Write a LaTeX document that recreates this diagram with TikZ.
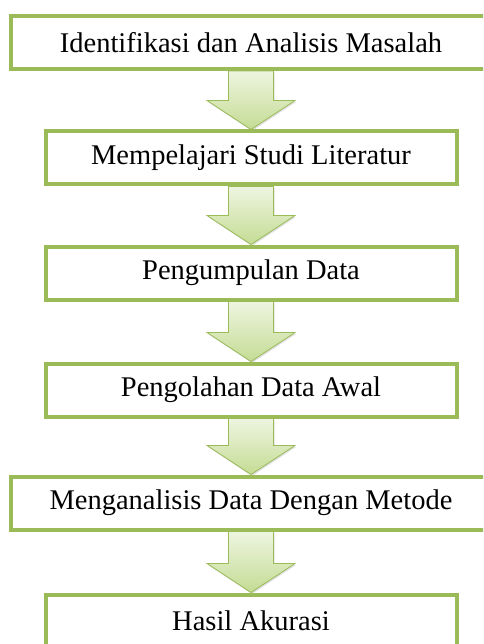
\documentclass[tikz,border=0pt]{standalone}
\usepackage{fontspec}
\setmainfont{Liberation Serif}
\usetikzlibrary{calc,backgrounds,shadows}
\definecolor{boxgreen}{HTML}{9BBB59}
\definecolor{arrlight}{HTML}{EEF5E0}
\definecolor{arrdark}{HTML}{C4DC94}
\begin{document}
\begin{tikzpicture}[x=1pt,y=-1pt,
  stepbox/.style={draw=boxgreen, line width=4pt, fill=white, minimum height=53pt, inner sep=0pt, font=\fontsize{28.5}{31}\selectfont},
  narrowbox/.style={stepbox, minimum width=411pt},
  widebox/.style={stepbox, minimum width=481pt},
  flowarrow/.style={draw=boxgreen, line width=0.8pt, top color=arrlight, bottom color=arrdark, drop shadow={opacity=0.25,shadow xshift=1pt,shadow yshift=-1.5pt}}]
\useasboundingbox (0,0) rectangle (483,644);
\clip (0,0) rectangle (483,644);
\node[widebox]   (s1) at (251,42.5) {Identifikasi dan Analisis Masalah};
\node[narrowbox] (s2) at (251,158)  {Mempelajari Studi Literatur};
\node[narrowbox] (s3) at (251,273)  {Pengumpulan Data};
\node[narrowbox] (s4) at (251,390)  {Pengolahan Data Awal};
\node[widebox]   (s5) at (251,503)  {Menganalisis Data Dengan Metode};
\node[narrowbox] (s6) at (251,621)  {Hasil Akurasi};
\begin{scope}[on background layer]
\foreach \a/\b in {s1/s2,s2/s3,s3/s4,s4/s5,s5/s6}{
  \path[flowarrow] ($(\a.south)+(-22.5,0)$) -- ($(\b.north)+(-22.5,-29)$) -- ($(\b.north)+(-44,-29)$) -- (\b.north) -- ($(\b.north)+(44,-29)$) -- ($(\b.north)+(22.5,-29)$) -- ($(\a.south)+(22.5,0)$) -- cycle;
}
\end{scope}
\end{tikzpicture}
\end{document}
